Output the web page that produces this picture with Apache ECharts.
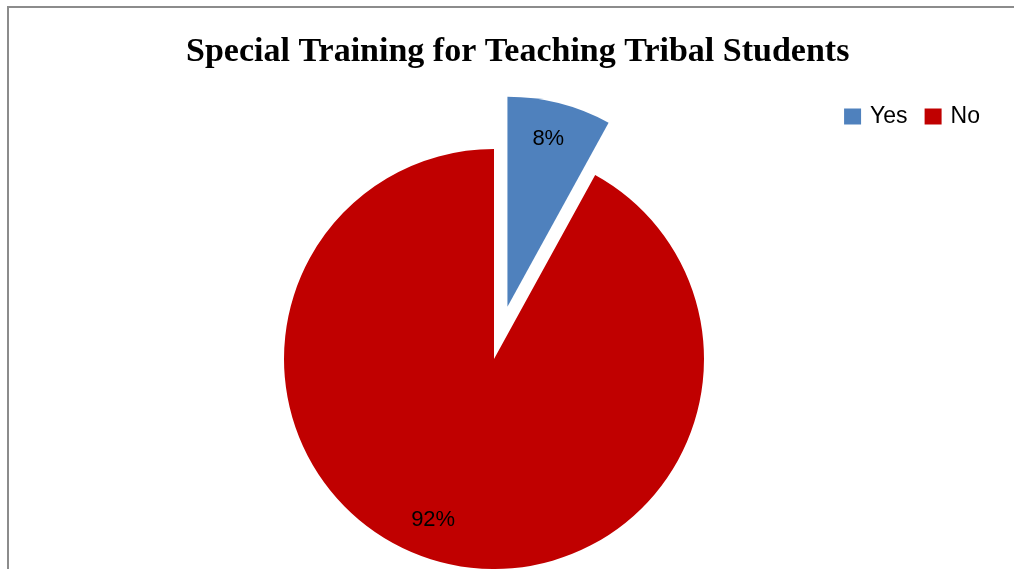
<!DOCTYPE html>
<html>
<head>
<meta charset="utf-8">
<script src="https://cdn.jsdelivr.net/npm/echarts@6/dist/echarts.min.js"></script>
<style>
  html, body { margin: 0; padding: 0; background: #fff; }
  #chart { width: 1014px; height: 569px; }
</style>
</head>
<body>
<div id="chart"></div>
<script>
var categories = ['Yes', 'No'];
var values = [8, 92];
var colors = ['#4F81BD', '#C00000'];
// label nudges so they sit where Excel put them
var labelOffsets = [[14, -63], [-34, 56]];

var pieData = categories.map(function (name, i) {
    var lbl = { offset: labelOffsets[i] };
    return {
        name: name,
        value: values[i],
        selected: i === 0,
        itemStyle: { color: colors[i] },
        label: lbl,
        select: { label: lbl }
    };
});

var option = {
    backgroundColor: '#fff',
    animation: false,
    graphic: [
        {
            type: 'rect',
            shape: { x: 8, y: 7, width: 1020, height: 580 },
            style: { fill: 'none', stroke: '#8c8c8c', lineWidth: 2 },
            silent: true
        }
    ],
    title: {
        text: 'Special Training for Teaching Tribal Students',
        left: 181,
        top: 30,
        textStyle: {
            fontFamily: 'Liberation Serif',
            fontWeight: 'bold',
            fontSize: 34,
            color: '#000'
        }
    },
    legend: {
        data: categories,
        right: 29,
        top: 100,
        icon: 'rect',
        itemWidth: 17,
        itemHeight: 16,
        itemGap: 17,
        selectedMode: false,
        textStyle: {
            fontFamily: 'Liberation Sans',
            fontSize: 23,
            color: '#000',
            padding: [0, 0, 0, 4]
        }
    },
    series: [
        {
            name: 'Special Training',
            type: 'pie',
            center: [494, 359],
            radius: [0, 210],
            startAngle: 90,
            clockwise: true,
            selectedMode: 'single',
            selectedOffset: 54,
            label: {
                show: true,
                position: 'inside',
                formatter: '{c}%',
                fontFamily: 'Liberation Sans',
                fontSize: 22,
                color: '#000'
            },
            labelLine: { show: false },
            emphasis: { disabled: true },
            data: pieData
        }
    ]
};

var chart = echarts.init(document.getElementById('chart'));
chart.setOption(option);
</script>
</body>
</html>
